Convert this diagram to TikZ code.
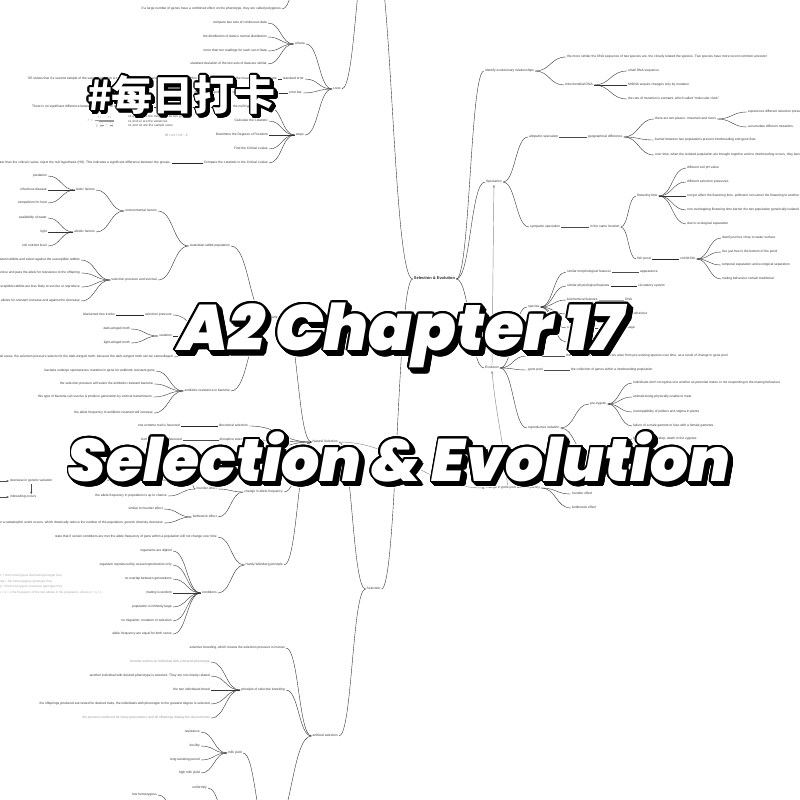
\documentclass[tikz,border=0pt]{standalone}
\usepackage{fontspec}
\usepackage[copies]{contour}
\usepackage{graphicx}
\usetikzlibrary{calc,arrows.meta}
\newfontfamily\mmfont{Liberation Sans}
\IfFontExistsTF{Poppins Black Italic}{\newfontfamily\ttlfont{Poppins Black Italic}\newcommand\myttlshape{}}{\newfontfamily\ttlfont{Poppins}\newcommand\myttlshape{\bfseries\itshape}}
\IfFontExistsTF{Noto Sans CJK SC Black}{\newfontfamily\cjkfont{Noto Sans CJK SC Black}}{\IfFontExistsTF{Noto Sans CJK SC Bold}{\newfontfamily\cjkfont{Noto Sans CJK SC Bold}}{\newfontfamily\cjkfont{Noto Sans CJK SC}}}
\newcommand\mmsize{\fontsize{3.3}{4}\selectfont}
\newcommand\ttlayers[1]{%
 \rlap{\kern.06em\raisebox{-.07em}{\contourlength{.045em}\textcolor{white}{\contour{white}{#1}}}}%
 \rlap{\contourlength{.045em}\textcolor{white}{\contour{white}{#1}}}%
 \rlap{\kern.02em\raisebox{-.023em}{\contourlength{.03em}\textcolor{black}{\contour{black}{#1}}}}%
 \rlap{\kern.04em\raisebox{-.047em}{\contourlength{.03em}\textcolor{black}{\contour{black}{#1}}}}%
 \rlap{\kern.06em\raisebox{-.07em}{\contourlength{.03em}\textcolor{black}{\contour{black}{#1}}}}%
 \contourlength{.03em}\textcolor{white}{\contour{black}{#1}}}
\tikzset{
 base/.style={font=\mmfont\mmsize, text=black!78, inner sep=1pt, text height=2.4pt, text depth=0.7pt},
 lnode/.style={base, anchor=east},
 rnode/.style={base, anchor=west},
 gnode/.style={text=black!40},
 notes/.style={font=\mmfont\fontsize{3.2}{4.7}\selectfont, text=black!70, inner sep=0pt, align=left},
 con/.style={draw=black!80, line width=0.4pt},
 thk/.style={draw=black!85, line width=0.8pt},
 thn/.style={draw=black!70, line width=0.35pt},
 mm/.style={to path={let \p1=(\tikztostart), \p2=(\tikztotarget) in .. controls ({(\x1+\x2)/2},\y1) and ({(\x1+\x2)/2},\y2) .. (\tikztotarget) \tikztonodes}},
 garr/.style={draw=black!45, line width=0.45pt, -{Stealth[length=3pt,width=2.2pt]}},
 barr/.style={draw=black!70, line width=0.4pt, -{Stealth[length=2.5pt,width=2pt]}},
 ttl/.style={inner sep=0pt, anchor=base},
}
\newcommand\CL[5][]{\node[lnode,#1] (#2) at (#3) {#4};\draw[con] (#5.west) to[mm] (#2.east);}
\newcommand\CR[5][]{\node[rnode,#1] (#2) at (#3) {#4};\draw[con] (#5.east) to[mm] (#2.west);}
\newcommand\SL[5]{\node[lnode] (#1) at (#2) {#3};\draw[#5] (#4.west) -- (#1.east);}
\newcommand\SR[5]{\node[rnode] (#1) at (#2) {#3};\draw[#5] (#4.east) -- (#1.west);}
\begin{document}
\begin{tikzpicture}[x=1pt,y=-1pt]
\useasboundingbox (0,0) rectangle (800,800);
\fill[white] (0,0) rectangle (800,800);
\clip (0,0) rectangle (800,800);

% ---------- root ----------
\node[base, font=\mmfont\bfseries\fontsize{4}{5}\selectfont, text=black!85] (root) at (434.5,279) {Selection \& Evolution};

% ---------- right side ----------
\CR{ier}{484,71}{identify evolutionary relationships}{root}
\CR{ier1}{566,57}{the more similar the DNA sequence of two species are, the closely related the species. Two species have more recent common ancestor}{ier}
\CR{mt}{564,85}{mitochondrial DNA}{ier}
\CR{mt1}{627,71}{small DNA sequence}{mt}
\CR{mt2}{627,85}{MtDNA acquire changes only by mutation}{mt}
\CR{mt3}{627,99}{the rate of mutation is constant, which called “molecular clock”}{mt}

\CR{spec}{485,182}{Speciation}{root}
\CR{allo}{528,137}{allopatric speciation}{spec}
\SR{geo}{587,137}{geographical difference}{allo}{thn}
\CR{g1}{654,119}{there are two places: mountain and rivers}{geo}
\CR{g1a}{747,112}{experience different selection pressures}{g1}
\CR{g1b}{747,127}{accumulate different mutations}{g1}
\CR{g2}{654,140}{barrier between two populations prevent interbreeding and gene flow}{geo}
\CR{g3}{654,155}{over time, when the isolated population are brought together and no interbreeding occurs, they become different species}{geo}
\CR{sym}{529,227}{sympatric speciation}{spec}
\SR{loc}{589,227}{in the same location}{sym}{thn}
\CR{flw}{636,196}{flowering time}{loc}
\CR{fl1}{686,168}{different soil pH value}{flw}
\CR{fl2}{686,182}{different selection pressures}{flw}
\CR{fl3}{686,196}{not get affect the flowering time, pollinator not carrier the flowering to another population}{flw}
\CR{fl4}{686,210}{non-overlapping flowering time barrier the two population genetically isolated}{flw}
\CR{fl5}{686,224}{due to ecological separation}{flw}
\CR{fp}{636,259}{fish pond}{loc}
\SR{cf}{679,259}{cichlid fish}{fp}{thk}
\CR{cf1}{721,238}{dwell just free close to water surface}{cf}
\CR{cf2}{721,252}{live just free in the bottom of the pond}{cf}
\CR{cf3}{721,265}{temporal separation and ecological separation}{cf}
\CR{cf4}{721,279}{mating behaviour remain traditional}{cf}

\CR{evo}{484,368}{Evolution}{root}
\CR{spc}{527,307}{species}{evo}
\CR{sp1}{566,272}{similar morphological features}{spc}
\SR{ap}{639,272}{appearance}{sp1}{thn}
\CR{sp2}{566,286}{similar physiological features}{spc}
\SR{cs}{637,286}{circulatory system}{sp2}{thk}
\CR{sp3}{566,300}{biochemical features}{spc}
\SR{dna}{624,300}{DNA}{sp3}{thn}
\CR{sp4}{566,314}{similar courtship}{spc}
\SR{mb}{621,314}{mating behaviour}{sp4}{thn}
\CR{sp5}{566,328}{similar behaviour}{spc}
\SR{bl}{612,328}{body language}{sp5}{thn}
\CR{sp6}{566,342}{interbreed with related species}{spc}
\CR{evd}{526,356}{evolution}{evo}
\SR{evt}{565,356}{the process by which new species arise from pre-existing species over time, as a result of change in gene pool}{evd}{thn}
\CR{gp}{527,370}{gene pool}{evo}
\SR{gpt}{570,370}{the collection of genes within a interbreeding population}{gp}{thn}
\CR{ri}{527,428}{reproductive isolation}{evo}
\CR{pre}{589,404}{pre-zygotic}{ri}
\CR{pre1}{632,383}{individuals don't recognise one another as potential mates or not responding to the mating behaviour}{pre}
\CR{pre2}{632,397}{animals being physically unable to mate}{pre}
\CR{pre3}{632,412}{incompatibility of pollens and stigma in plants}{pre}
\CR{pre4}{632,426}{failure of a male gamete to fuse with a female gametes}{pre}
\CR{post}{589,455}{post-zygotic}{ri}
\CR{post1}{632,439}{hybrid fails to develop, death in the zygotes}{post}
\CR{post2}{632,470}{hybrid offspring are sterile}{post}

\node[rnode] (cg) at (485,488) {change in gene pool allele frequency};
\CR{cgf}{571,494}{founder effect}{cg}
\CR{cgb}{571,508}{bottleneck effect}{cg}

% ---------- left side ----------
\coordinate (varR) at (372,-60);
\coordinate (varL) at (370,-60);
\draw[con] (root.west) to[mm] (varR);
\node[rnode] (tt) at (332,89) {t-test};
\draw[con] (tt.east) to[mm] (varL);
\coordinate (pgc) at (300,-20);
\node[lnode] (pg) at (282,9) {If a large number of genes have a combined effect on the phenotype, they are called polygenes};
\draw[con] (pgc) to[mm] (pg.east);

\CL{crit}{306,44}{criteria}{tt}
\CL{c1}{268,23}{compare two sets of continuous data}{crit}
\CL{c2}{268,37}{the distribution of data is normal distribution}{crit}
\CL{c3}{268,51}{more than ten readings for each set of data}{crit}
\CL{c4}{268,64}{standard deviation of the two sets of data are similar}{crit}
\CL{se}{305,79}{standard error}{tt}
\CL{se1}{278,79}{SE shows that if a second sample of the same population is taken, the mean of the second population will fall within 2 times the value of SE of the mean of the first sample}{se}
\CL{eb}{303,93}{error bar}{tt}
\CL{eb1}{278,93}{if the error bars overlap, there is no significant difference between the two means}{eb}
\CL{stp}{305,135}{steps}{tt}
\CL{st1}{269,107}{State the null hypothesis (H0)}{stp}
\CL{st2}{269,121}{Calculate the t-statistic}{stp}
\CL{st3}{269,135}{Determine the Degrees of Freedom}{stp}
\CL{st4}{269,149}{Find the Critical t-value}{stp}
\CL{st5}{269,163}{Compare the t-statistic to the Critical t-value}{stp}
\SL{st5a}{172,163}{If the t-statistic is greater than the critical t-value, reject the null hypothesis (H0). This indicates a significant difference between the groups.}{st5}{thk}
\node[rnode] (nh1) at (31,107) {There is no significant difference between the means of the two groups};
\draw[con] (st1.west) to[mm] (nh1.east);
\node[inner sep=0pt, text=black!40] (fm) at (101,122) {\scalebox{0.42}{$\displaystyle t=\frac{\bar{x}_1-\bar{x}_2}{\sqrt{\frac{s_1^2}{n_1}+\frac{s_2^2}{n_2}}}$}};
\node[notes, anchor=north west] (whr) at (128,115) {x1 and x2 are the means of the two groups\\ s1 and s2 are the variances\\ n1 and n2 are the sample sizes};
\node[notes, text=black!50, anchor=west] (dfn) at (165,135) {df = n1 + n2 − 2};

\node[base] (sel) at (373.5,589) {Selection};
\draw[con] (root.west) to[mm] (sel.east);
\CL{ns}{339,442}{Natural Selection}{sel}
\CL{as}{339,736}{artificial selection}{sel}

\CL{ex}{284,318}{examples}{ns}
\CL{rab}{231,246}{Australian rabbit population}{ex}
\CL{env}{158,211}{environmental factors}{rab}
\CL{bio}{96,190}{biotic factors}{env}
\CL{b1}{48,176}{predation}{bio}
\CL{b2}{48,190}{infectious disease}{bio}
\CL{b3}{48,203}{competition for food}{bio}
\CL{abio}{96,232}{abiotic factors}{env}
\CL{a1}{48,218}{availability of water}{abio}
\CL{a2}{48,232}{light}{abio}
\CL{a3}{48,246}{soil nutrient level}{abio}
\CL{sps}{158,280}{selection pressure and survival}{rab}
\CL{s1}{81,260}{myxomatosis kills the non-resistant rabbits and select against the susceptible rabbits}{sps}
\CL{s2}{81,273}{resistant rabbits survive and pass the allele for resistance to the offspring}{sps}
\CL{s3}{81,287}{susceptible rabbits are less likely to survive or reproduce}{sps}
\CL{s4}{81,301}{the frequency of alleles for resistant increase and against the decrease}{sps}
\CL{moth}{234,336}{peppered moth}{ex}
\CL{spr}{173,315}{selection pressure}{moth}
\SL{btt}{116,315}{blackened tree trunks}{spr}{thk}
\CL{var1}{173,336}{variation}{moth}
\CL{v1}{131,329}{dark-winged moth}{var1}
\CL{v2}{131,343}{light-winged moth}{var1}
\CL{mo3}{174,357}{in industrial areas, the selection pressure selects for the dark-winged moth, because the dark-winged moth can be camouflaged}{moth}
\CL{bac}{231,391}{antibiotic resistance in bacteria}{ex}
\CL{ba1}{156,371}{bacteria undergo spontaneous mutation in gene for antibiotic resistant gene}{bac}
\CL{ba2}{154,384}{the selection pressure will select the antibiotic resistant bacteria}{bac}
\CL{ba3}{153,397}{this type of bacteria can survive \& produce generation by vertical transmission}{bac}
\CL{ba4}{154,413}{the allele frequency of antibiotic resistant will increase}{bac}

\CL{dirs}{249,426}{directional selection}{ns}
\SL{dir1}{181,426}{one extreme trait is favoured}{dirs}{thk}
\CL{diss}{249,440}{disruptive selection}{ns}
\SL{dis1}{183,440}{both extremes are favoured}{diss}{thn}
\CL{stas}{249,455}{stabilizing selection}{ns}
\SL{sta1}{183,455}{the intermediate is favoured}{stas}{thn}
\CL{cif}{284,492}{change in allele frequency}{ns}
\CL{fe}{218,489}{founder effect}{cif}
\CL{fe1}{190,481}{a small group of individuals from a population colonise a new area}{fe}
\CL{fe2}{168,496}{the allele frequency in population is up to chance}{fe}
\CL{bn}{218,517}{bottleneck effect}{cif}
\CL{bn1}{164,509}{similar to founder effect}{bn}
\CL{bn2}{164,523}{when a catastrophic event occurs, which drastically reduce the number of the population, genetic diversity decrease}{bn}
\node[rnode] (dgv) at (9,481) {decrease in genetic variation};
\node[rnode] (ib) at (9,497) {inbreeding occurs};
\draw[barr] (dgv.south) -- (dgv.south |- ib.north);
\coordinate (dgl) at (-12,481);
\coordinate (ibl) at (-12,497);
\draw[barr] (dgl) -- (dgv.west);
\draw[barr] (ibl) -- (ib.west);

\CL{hw}{284,565}{Hardy-Weinberg principle}{ns}
\CL{hw1}{218,537}{state that if certain conditions are met the allele frequency of gene within a population will not change over time}{hw}
\CL{cond}{218,593}{conditions}{hw}
\CL{co1}{173,551}{organisms are diploid}{cond}
\CL{co2}{173,565}{organism reproduced by sexual reproduction only}{cond}
\CL{co3}{173,579}{no overlap between generations}{cond}
\CL{co4}{173,593}{mating is random}{cond}
\CL{co5}{173,607}{population is infinitely large}{cond}
\CL{co6}{173,621}{no migration, mutation or selection}{cond}
\CL{co7}{173,634}{allele frequency are equal for both sexes}{cond}
\node[notes, text=black!35, font=\mmfont\fontsize{3.1}{5.4}\selectfont, anchor=north west] (hwn) at (-1,574.5) {p² = the homozygous dominant genotype freq\\ 2pq = the heterozygous genotype freq\\ q² = the homozygous recessive genotype freq\\ p + q = 1 the frequency of the two alleles in the population, where p + q = 1};

\CL{sb}{286,648}{selective breeding, which means the selection pressure is human}{as}
\CL{psb}{286,690}{principle of selective breeding}{as}
\CL[gnode]{p1}{211,662}{breeder selects an individual with a desired phenotype}{psb}
\CL{p2}{211,676}{another individual with desired phenotype is selected. They are not closely related}{psb}
\CL{p3}{211,690}{the two individuals breed}{psb}
\CL{p4}{211,704}{the offsprings produced are tested for desired traits, the individuals with phenotype to the greatest degree is selected}{psb}
\CL[gnode]{p5}{211,718}{the process continued for many generations until all offsprings display the desired traits}{psb}
\coordinate (cowR) at (272,830);
\coordinate (cowL) at (268,830);
\draw[con] (as.west) to[mm] (cowR);
\node[lnode] (my) at (243,753) {milk yield};
\draw[con] (cowL) to[mm] (my.east);
\CL{m1}{201,732}{resistance}{my}
\CL{m2}{201,746}{docility}{my}
\CL{m3}{201,760}{long lactating period}{my}
\CL{m4}{201,773}{high milk yield}{my}
\coordinate (uL) at (230,822);
\node[lnode] (uni) at (208,788) {uniformity};
\draw[con] (uL) to[mm] (uni.east);
\coordinate (lhc) at (178,812);
\node[lnode] (lh) at (158,795) {low homozygous};
\draw[con] (lhc) to[mm] (lh.east);

% ---------- grey arrows ----------
\draw[garr] (ns.east) to[out=0,in=180] (cg.west);
\draw[garr] ($(cg.north west)!0.4!(cg.north east)$) to[out=95,in=-85] (evo.south);
\draw[garr] (evo.north) -- (spec.south);

% ---------- titles ----------
\node[ttl] (tcn) at (181.5,110) {\resizebox{189pt}{!}{\cjkfont\fontsize{40}{40}\selectfont\ttlayers{\#每日打卡}}};
\node[ttl] (ta2) at (401,350) {\resizebox{445pt}{!}{\ttlfont\myttlshape\fontsize{40}{40}\selectfont\ttlayers{A2 Chapter 17}}};
\node[ttl] (tse) at (399,481) {\resizebox{662pt}{!}{\ttlfont\myttlshape\fontsize{40}{40}\selectfont\ttlayers{Selection \& Evolution}}};
\end{tikzpicture}
\end{document}
